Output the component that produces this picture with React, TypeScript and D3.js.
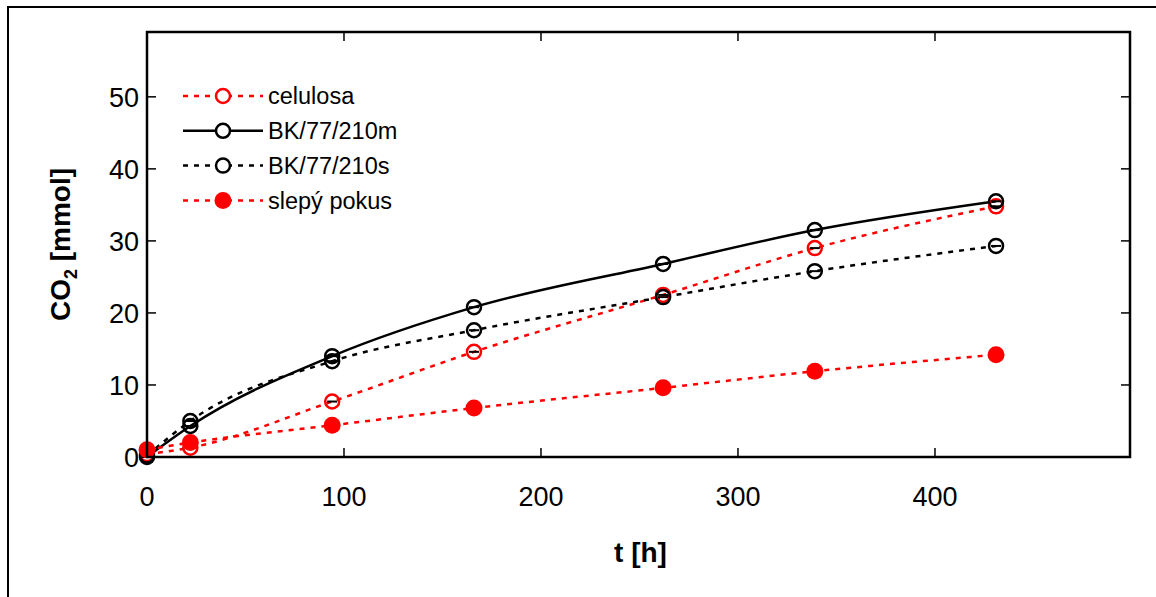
import React from "react";
import * as d3 from "d3";

const times = [0, 22, 94, 166, 262, 339, 431];
const celulosa = [0.4, 1.3, 7.7, 14.6, 22.5, 29.0, 34.8];
const bkm = [0.0, 4.3, 14.0, 20.8, 26.8, 31.5, 35.5];
const bks = [0.2, 5.0, 13.3, 17.6, 22.2, 25.8, 29.3];
const slepy = [1.0, 2.0, 4.4, 6.8, 9.6, 11.9, 14.2];
const xTicks = [0, 100, 200, 300, 400];
const yTicks = [0, 10, 20, 30, 40, 50];

const W = 1156, H = 597;
const L = 147, R = 1130, T = 32, B = 457;

const series = [
  { name: "celulosa", data: celulosa, color: "#ff0000", dash: "5,6", filled: false, width: 2.5 },
  { name: "BK/77/210m", data: bkm, color: "#000000", dash: null, filled: false, width: 2.5 },
  { name: "BK/77/210s", data: bks, color: "#000000", dash: "5,6", filled: false, width: 2.5 },
  { name: "slepý pokus", data: slepy, color: "#ff0000", dash: "5,6", filled: true, width: 2.5 },
];

export default function App() {
  const x = d3.scaleLinear().domain([0, 499]).range([L, R]);
  const y = d3.scaleLinear().domain([0, 59]).range([B, T]);
  const line = d3
    .line<number>()
    .x((_, i) => x(times[i]))
    .y((d) => y(d))
    .curve(d3.curveMonotoneX);
  const font = "'Liberation Sans', Arial, sans-serif";
  return (
    <svg width={W} height={H} style={{ position: "absolute", left: 0, top: 0 }} fontFamily={font}>
      <rect x={0} y={0} width={W} height={H} fill="#fff" />
      <path d={`M8,${H} L8,7 L${W},7`} fill="none" stroke="#000" strokeWidth={2} />
      {yTicks.map((t) => (
        <g key={"y" + t}>
          <line x1={L} x2={L + 9} y1={y(t)} y2={y(t)} stroke="#000" strokeWidth={1.5} />
          <line x1={R} x2={R - 9} y1={y(t)} y2={y(t)} stroke="#000" strokeWidth={1.5} />
          <text x={L - 8} y={y(t)} dy="0.36em" textAnchor="end" fontSize={27}>{t}</text>
        </g>
      ))}
      {xTicks.map((t) => (
        <g key={"x" + t}>
          <line x1={x(t)} x2={x(t)} y1={B} y2={B - 9} stroke="#000" strokeWidth={1.5} />
          <line x1={x(t)} x2={x(t)} y1={T} y2={T + 9} stroke="#000" strokeWidth={1.5} />
          <text x={x(t)} y={B + 49} textAnchor="middle" fontSize={27}>{t}</text>
        </g>
      ))}
      {series.map((s) => (
        <g key={s.name}>
          <path d={line(s.data) || ""} fill="none" stroke={s.color} strokeWidth={s.width}
            strokeDasharray={s.dash || undefined} />
        </g>
      ))}
      {series.map((s) => (
        <g key={s.name + "m"}>
          {s.data.map((d, i) => (
            <g key={i}>
              <line x1={x(times[i]) - 5} x2={x(times[i]) + 5} y1={y(d)} y2={y(d)} stroke={s.color === "#ff0000" && !s.filled ? "#000" : s.color} strokeWidth={2} />
              <circle cx={x(times[i])} cy={y(d)} r={s.filled ? 8.5 : 7}
                fill={s.filled ? s.color : "none"} stroke={s.color} strokeWidth={s.filled ? 0 : 2.5} />
            </g>
          ))}
        </g>
      ))}
      <rect x={L} y={T} width={R - L} height={B - T} fill="none" stroke="#000" strokeWidth={2.5} />
      {series.map((s, i) => {
        const ly = 96 + i * 34.8;
        return (
          <g key={s.name + "l"}>
            <line x1={183} x2={263} y1={ly} y2={ly} stroke={s.color} strokeWidth={2.5}
              strokeDasharray={s.dash || undefined} />
            <circle cx={223} cy={ly} r={s.filled ? 8.5 : 7} fill={s.filled ? s.color : "#fff"}
              stroke={s.color} strokeWidth={s.filled ? 0 : 2.5} />
            <text x={268} y={ly} dy="0.36em" fontSize={23.5}>{s.name}</text>
          </g>
        );
      })}
      <text x={(L + R) / 2 + 2} y={562} textAnchor="middle" fontSize={28} fontWeight="bold">t [h]</text>
      <text transform={`translate(70,${(T + B) / 2}) rotate(-90)`} textAnchor="middle" fontSize={28} fontWeight="bold">
        CO<tspan fontSize={18} dy={7}>2</tspan><tspan dy={-7}> [mmol]</tspan>
      </text>
    </svg>
  );
}
